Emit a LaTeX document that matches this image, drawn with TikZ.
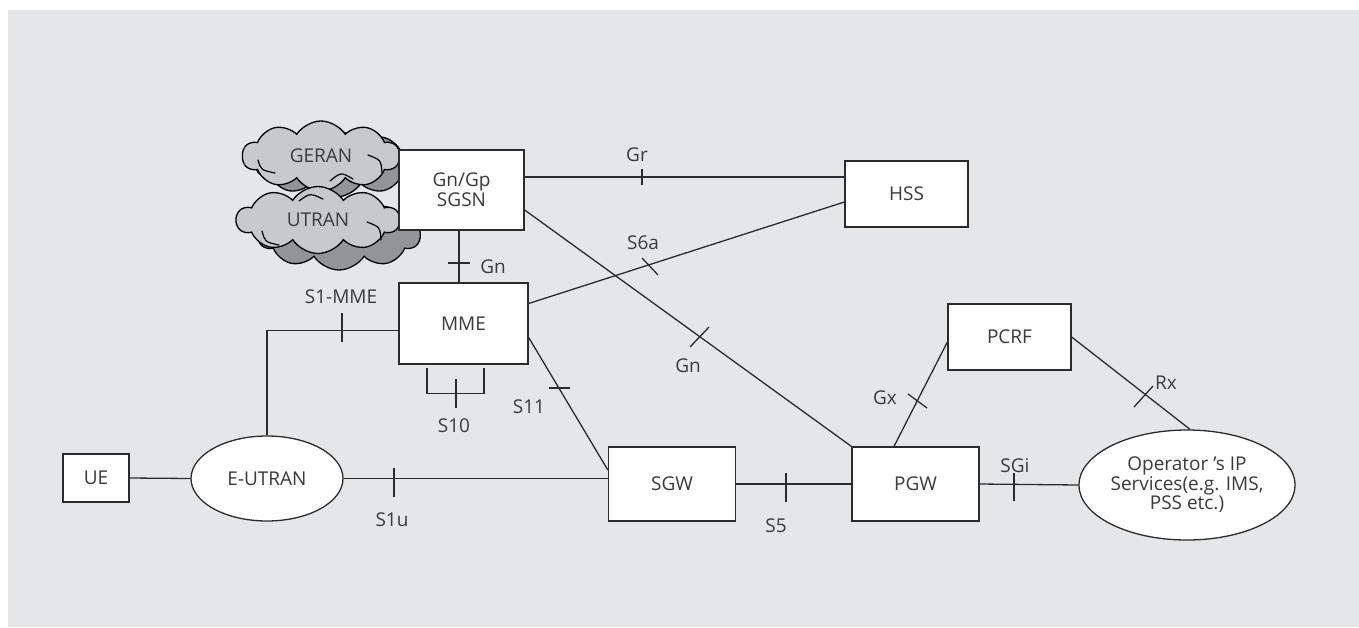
\documentclass[tikz,border=0pt]{standalone}
\usepackage{fontspec}
\setmainfont{Open Sans}
\usetikzlibrary{shapes.geometric,shapes.symbols}
\definecolor{bg}{HTML}{E5E6E8}
\definecolor{ln}{HTML}{2B2B2B}
\definecolor{tx}{HTML}{3A3A3A}
\definecolor{cl}{HTML}{C8C9CB}
\definecolor{cs}{HTML}{939497}
\begin{document}
\begin{tikzpicture}[x=1pt,y=-1pt,
  every node/.style={font=\fontsize{19}{17}\selectfont, text=tx},
  box/.style={draw=ln, fill=white, line width=1.3pt, inner sep=0pt},
  ell/.style={ellipse, draw=ln, fill=white, line width=1.3pt, inner sep=0pt},
  conn/.style={draw=ln, line width=1.3pt},
  tickm/.style={draw=ln, line width=1.3pt},
  lbl/.style={inner sep=0pt},
  puff/.style={draw=black, line width=1.2pt, line cap=round},
  cloudf/.style={cloud, cloud puffs=10, cloud puff arc=115, aspect=2.3, draw=black, line width=1.3pt, fill=cl, inner sep=0pt},
  clouds/.style={cloud, cloud puffs=10, cloud puff arc=115, aspect=2.3, draw=black, line width=1.3pt, fill=cs, inner sep=0pt},
]
\useasboundingbox (0,0) rectangle (1359,627);
\fill[bg] (8,10) rectangle (1359,627);

% clouds
\node[clouds, minimum width=160pt, minimum height=66pt] (geranS) at (336,164) {};
\node[cloudf, minimum width=157pt, minimum height=70pt] (geran) at (321,156) {GERAN};
\draw[puff] (258,160) .. controls (261,170) .. (275,173);
\draw[puff] (330,181) .. controls (341,172) .. (353,179);
\draw[puff] (368,155) .. controls (381,160) .. (382,173);
\node[clouds, minimum width=162pt, minimum height=70pt] (utranS) at (339,235) {};
\node[cloudf, minimum width=163pt, minimum height=67pt] (utran) at (318,220) {UTRAN};
\draw[puff] (262,231) .. controls (265,242) .. (279,245);
\draw[puff] (299,201) .. controls (310,193) .. (323,199);
\draw[puff] (367,222) .. controls (380,227) .. (381,240);

% nodes
\node[box, minimum width=66pt, minimum height=48pt] (ue) at (96,478) {UE};
\node[ell, minimum width=152pt, minimum height=85pt] (eutran) at (267,478.5) {E-UTRAN};
\node[box, minimum width=127pt, minimum height=74pt] (sgw) at (672,484) {SGW};
\node[box, minimum width=127pt, minimum height=74pt] (pgw) at (915.5,484) {PGW};
\node[ell, minimum width=200pt, minimum height=110pt, align=center] (op) at (1187,485) {Operator 's IP\\Services(e.g. IMS,\\PSS etc.)};
\node[box, minimum width=123pt, minimum height=66pt] (pcrf) at (1009.5,337) {PCRF};
\node[box, minimum width=129pt, minimum height=81pt] (mme) at (463.5,323.5) {MME};
\node[box, minimum width=125pt, minimum height=80pt, align=center, font=\fontsize{19}{20}\selectfont] (sgsn) at (461.5,190) {Gn/Gp\\SGSN};
\node[box, minimum width=123pt, minimum height=66pt] (hss) at (906.5,194) {HSS};

% connectors
\draw[conn] (ue.east) -- (eutran.west);
\draw[conn] (eutran.east) -- (eutran.east -| sgw.west);
\draw[conn] (sgw.east) -- (pgw.west);
\draw[conn] (pgw.east) -- (op.west);
\draw[conn] ([xshift=-21.5pt]pgw.north) -- ([yshift=-5pt]pcrf.west);
\draw[conn] (pcrf.east) -- ([xshift=3pt]op.north);
\coordinate (grA) at ([yshift=13pt]sgsn.east);
\draw[conn] (grA) -- (grA -| hss.west);
\draw[conn] ([yshift=-20pt]sgsn.east) -- (pgw.north west);
\draw[conn] ([yshift=20pt]mme.east) -- ([yshift=-8pt]hss.west);
\draw[conn] ([yshift=-14pt]mme.east) -- ([yshift=14pt]sgw.west);
\draw[conn] ([xshift=-2.5pt]sgsn.south) -- ([xshift=-4.5pt]mme.north);
\draw[conn] ([yshift=-7pt]mme.west) -| (eutran.north);
\draw[conn] ([xshift=-36.5pt,yshift=-3pt]mme.south) -- ++(0,26) -| ([xshift=20.5pt,yshift=-3pt]mme.south);

% ticks
\draw[tickm] (394,468) -- (394,497);
\draw[tickm] (786,473) -- (786,502);
\draw[tickm] (1014,473) -- (1014,501);
\draw[tickm] (342,313) -- (342,342);
\draw[tickm] (456,379) -- (456,408);
\draw[tickm] (642,169) -- (642,185);
\draw[tickm] (448,263) -- (470,263);
\draw[tickm] (549,388) -- (570,388);
\draw[tickm] (642,258) -- (658,275);
\draw[tickm] (690,347) -- (709,327);
\draw[tickm] (908,394) -- (927,408);
\draw[tickm] (1134,407) -- (1153,386);

% labels
\node[lbl] (lGr) at (637,155) {Gr};
\node[lbl] (lS6a) at (643,243) {S6a};
\node[lbl] (lGn1) at (493,267) {Gn};
\node[lbl] (lS1mme) at (341,297) {S1-MME};
\node[lbl] (lS10) at (454,426) {S10};
\node[lbl] (lS11) at (529,407) {S11};
\node[lbl] (lGn2) at (688,366) {Gn};
\node[lbl] (lGx) at (885,398) {Gx};
\node[lbl] (lRx) at (1166,383) {Rx};
\node[lbl] (lSGi) at (1015,466) {SGi};
\node[lbl] (lS5) at (776,526) {S5};
\node[lbl] (lS1u) at (392,520) {S1u};
\end{tikzpicture}
\end{document}
